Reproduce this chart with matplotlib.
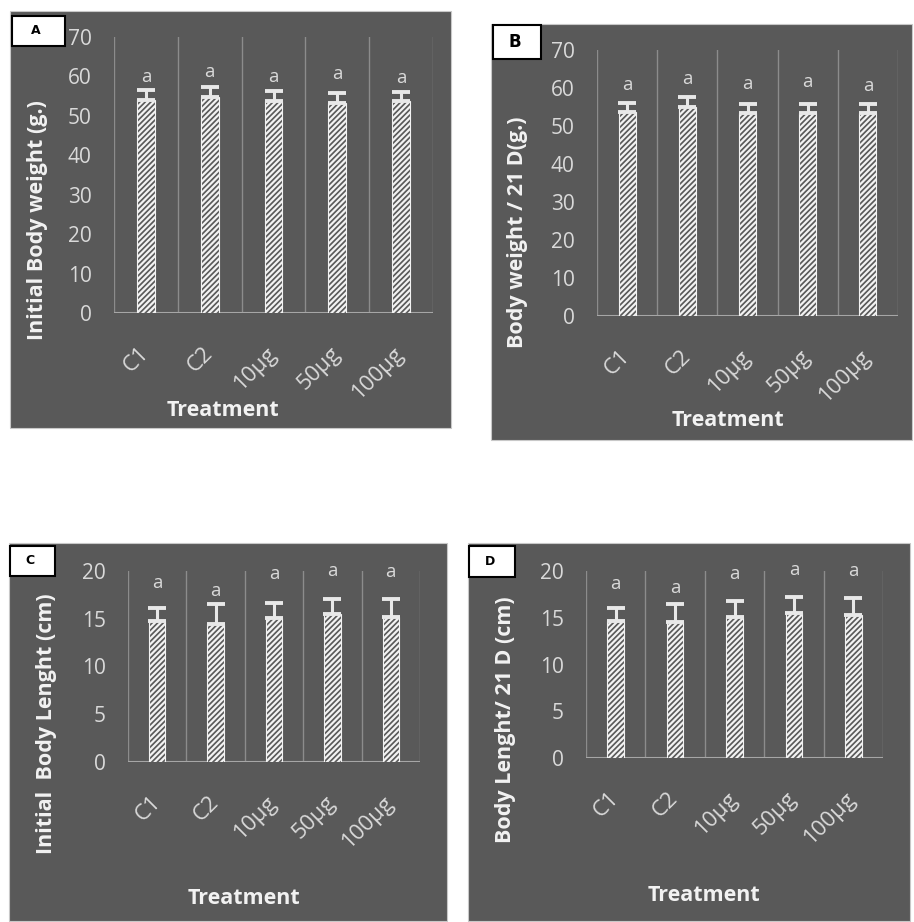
import matplotlib
matplotlib.use('Agg')
import matplotlib.pyplot as plt
from matplotlib.patches import Rectangle
import numpy as np

plt.rcParams['font.family'] = ['Open Sans', 'DejaVu Sans']
plt.rcParams['hatch.color'] = '#f2f2f2'
plt.rcParams['hatch.linewidth'] = 1.6

treatments = ['C1', 'C2', '10µg', '50µg', '100µg']

# A: initial body weight (g)
weight_0 = [54.1, 54.9, 53.7, 53.3, 53.7]
weight_0_sd = [2.4, 2.4, 2.5, 2.5, 2.3]
weight_0_sig = [59.9, 61.2, 59.9, 60.6, 59.5]

# B: body weight after 21 days (g)
weight_21 = [53.7, 54.9, 53.3, 53.3, 53.3]
weight_21_sd = [2.4, 2.6, 2.6, 2.6, 2.5]
weight_21_sig = [60.8, 62.4, 61.0, 61.7, 60.5]

# C: initial body length (cm)
length_0 = [14.8, 14.5, 15.05, 15.5, 15.2]
length_0_sd = [1.35, 2.05, 1.65, 1.6, 1.9]
length_0_sig = [18.7, 17.9, 19.7, 20.0, 19.9]

# D: body length after 21 days (cm)
length_21 = [14.65, 14.5, 15.1, 15.55, 15.25]
length_21_sd = [1.35, 2.0, 1.7, 1.65, 1.85]
length_21_sig = [18.6, 18.2, 19.7, 20.1, 20.0]

sig_letters = ['a', 'a', 'a', 'a', 'a']

W, H = 914, 922
bg = '#595959'
fg = '#d9d9d9'
grid = '#8c8c8c'

fig = plt.figure(figsize=(W / 100, H / 100), dpi=100)


def px(x0, y0, x1, y1):
    # pixel box -> figure fraction [left, bottom, width, height]
    return [x0 / W, 1 - y1 / H, (x1 - x0) / W, (y1 - y0) / H]


panels = [
    dict(means=weight_0, sd=weight_0_sd, sig=weight_0_sig, ymax=70, step=10,
         ylabel='Initial Body weight (g.)', tag='A', tagsize=9,
         frame=(10, 11, 451, 428), axes=(114, 37, 433, 313), box=(12, 16, 65, 46),
         xlab=(223, 410), ylab=(38, 220)),
    dict(means=weight_21, sd=weight_21_sd, sig=weight_21_sig, ymax=70, step=10,
         ylabel='Body weight / 21 D(g.)', tag='B', tagsize=12,
         frame=(491, 24, 912, 440), axes=(597, 50, 898, 316), box=(493, 25, 541, 59),
         xlab=(728, 420), ylab=(518, 232)),
    dict(means=length_0, sd=length_0_sd, sig=length_0_sig, ymax=20, step=5,
         ylabel='Initial  Body Lenght (cm)', tag='C', tagsize=9,
         frame=(9, 543, 447, 921), axes=(128, 571, 420, 762), box=(10, 546, 55, 576),
         xlab=(244, 898), ylab=(47, 724)),
    dict(means=length_21, sd=length_21_sd, sig=length_21_sig, ymax=20, step=5,
         ylabel='Body Lenght/ 21 D (cm)', tag='D', tagsize=9,
         frame=(468, 543, 910, 921), axes=(586, 571, 883, 758), box=(469, 546, 515, 577),
         xlab=(704, 895), ylab=(505, 720)),
]

for p in panels:
    # panel background, kept behind the axes
    f = px(*p['frame'])
    fig.patches.append(Rectangle(f[:2], f[2], f[3], transform=fig.transFigure,
                                 facecolor=bg, edgecolor='#c8c8c8', lw=0.8, zorder=-1))

    ax = fig.add_axes(px(*p['axes']))
    ax.set_facecolor('none')
    x = np.arange(len(treatments))
    ax.bar(x, p['means'], width=0.28, color=bg, edgecolor='#f2f2f2',
           hatch='//////', linewidth=0.8, zorder=2)
    ax.errorbar(x, p['means'], yerr=[np.zeros(len(x)), p['sd']], fmt='none',
                ecolor='#e8e8e8', elinewidth=2.2, capsize=6.5, capthick=2.8, zorder=3)
    for xi, yi, s in zip(x, p['sig'], sig_letters):
        ax.text(xi, yi, s, ha='center', va='center', color=fg, fontsize=13.5,
                clip_on=False)

    ax.set_xlim(-0.5, len(treatments) - 0.5)
    ax.set_ylim(0, p['ymax'])
    ax.set_yticks(np.arange(0, p['ymax'] + 1, p['step']))
    for xv in np.arange(-0.5, len(treatments), 1.0):
        ax.axvline(xv, color=grid, lw=1.0, zorder=1)
    ax.axhline(0, color='#a6a6a6', lw=1.5, zorder=1)
    for s in ax.spines.values():
        s.set_visible(False)

    ax.set_xticks(x)
    ax.set_xticklabels(treatments, rotation=45, ha='right', rotation_mode='anchor',
                       va='center')
    ax.tick_params(axis='x', length=0, pad=27, labelsize=16, labelcolor=fg)
    ax.tick_params(axis='y', length=0, pad=16, labelsize=15, labelcolor=fg)

    fig.text(p['xlab'][0] / W, 1 - p['xlab'][1] / H, 'Treatment', ha='center',
             va='center', color='#f2f2f2', fontsize=15.5, fontweight='bold')
    fig.text(p['ylab'][0] / W, 1 - p['ylab'][1] / H, p['ylabel'], ha='center',
             va='center', rotation=90, color='#f2f2f2', fontsize=15.5, fontweight='bold')

    # panel tag box
    b = px(*p['box'])
    fig.patches.append(Rectangle(b[:2], b[2], b[3], transform=fig.transFigure,
                                 facecolor='white', edgecolor='black', lw=1.5, zorder=5))
    fig.text(b[0] + b[2] * 0.45, b[1] + b[3] / 2, p['tag'], ha='center', va='center',
             fontsize=p['tagsize'], fontweight='heavy', family='DejaVu Sans',
             color='black', zorder=6)

fig.savefig('out.png', dpi=100, facecolor='white')
